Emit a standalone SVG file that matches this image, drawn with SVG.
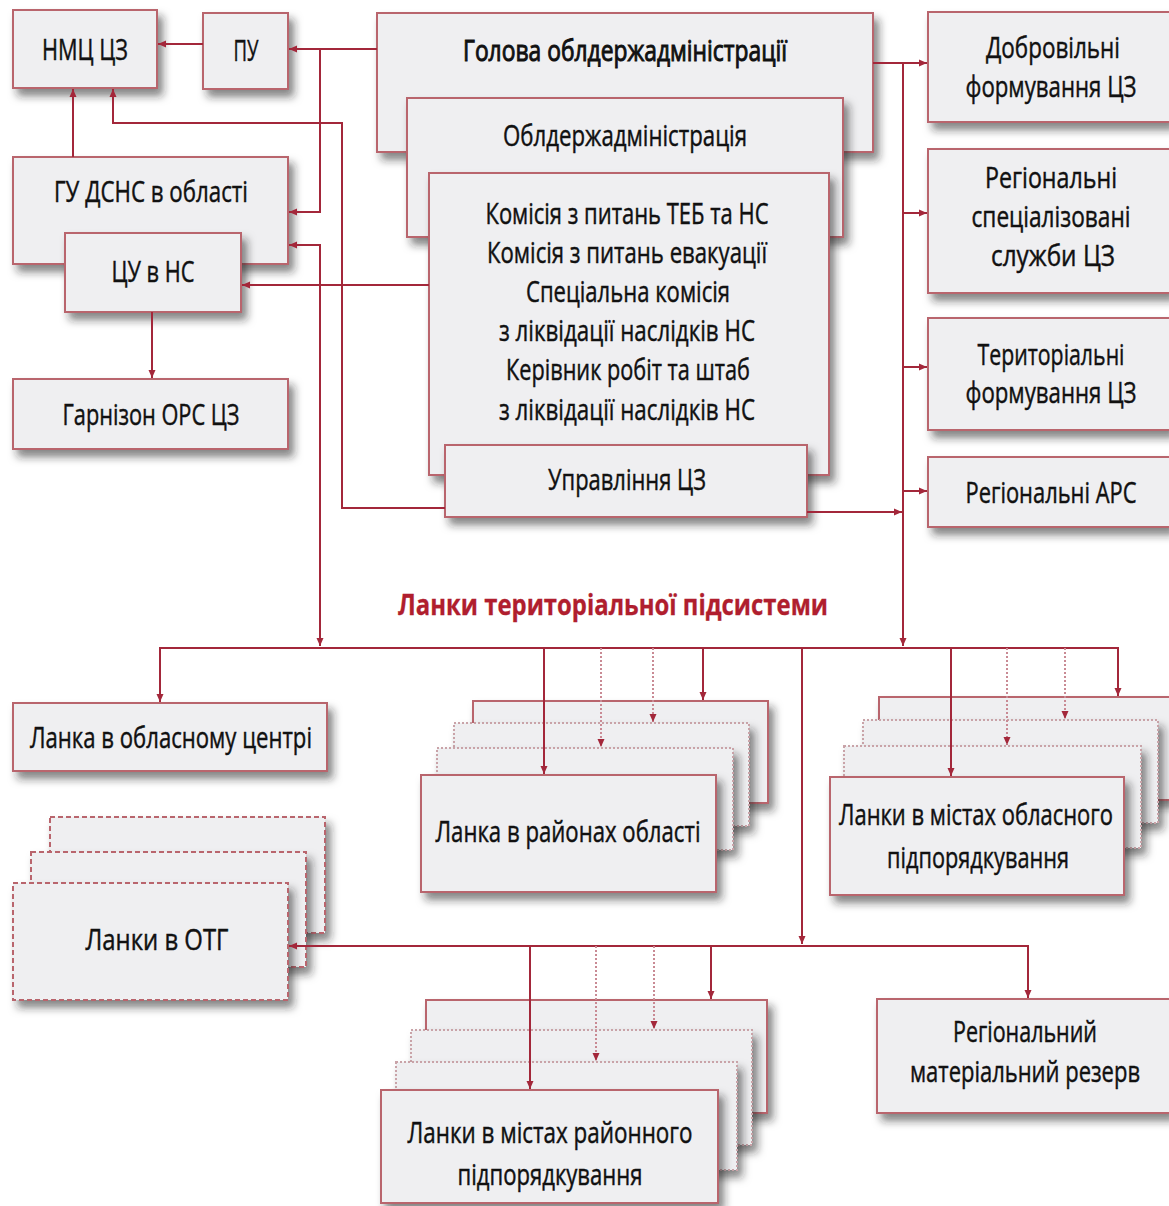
<svg xmlns="http://www.w3.org/2000/svg" width="1169" height="1206" viewBox="0 0 1169 1206">
<defs>
<filter id="sh" x="-10%" y="-15%" width="130%" height="150%">
<feDropShadow dx="5" dy="7" stdDeviation="4" flood-color="#222" flood-opacity="0.55"/>
</filter>
<marker id="ar" viewBox="0 0 8 8" refX="8" refY="4" markerWidth="8" markerHeight="8" markerUnits="userSpaceOnUse" orient="auto-start-reverse">
<path d="M0,0.5 L8,4 L0,7.5 z" fill="#a3273a"/>
</marker>
<marker id="ard" viewBox="0 0 8 8" refX="8" refY="4" markerWidth="8" markerHeight="8" markerUnits="userSpaceOnUse" orient="auto">
<path d="M0,0.5 L8,4 L0,7.5 z" fill="#a3273a"/>
</marker>
</defs>
<style>
.box{fill:#efeff1;stroke:#b9656d;stroke-width:2;filter:url(#sh)}
.boxd{fill:#efeff1;stroke:#c9a3a8;stroke-width:2;stroke-dasharray:2 2;filter:url(#sh)}
.boxdash{fill:#efeff1;stroke:#b9656d;stroke-width:2;stroke-dasharray:5 3;filter:url(#sh)}
text{font-family:"Open Sans","Noto Sans","Liberation Sans",sans-serif;font-size:29px;fill:#111;stroke:#111;stroke-width:0.45;text-anchor:middle}
.strong{stroke-width:1}
.title{fill:#b01e2e;stroke:#b01e2e;stroke-width:0.3;font-weight:bold}
.c{fill:none;stroke:#a3273a;stroke-width:2}
.cd{fill:none;stroke:#c98a94;stroke-width:2;stroke-dasharray:2 2}
</style>
<rect width="1169" height="1206" fill="#ffffff"/>

<g id="nmc"><rect class="box" x="13" y="10" width="144" height="78"/><text x="85" y="60" textLength="86" lengthAdjust="spacingAndGlyphs">НМЦ ЦЗ</text></g>
<g id="pu"><rect class="box" x="203" y="13" width="85" height="76"/><text x="246" y="61" textLength="25" lengthAdjust="spacingAndGlyphs">ПУ</text></g>
<g id="gu"><rect class="box" x="13" y="157" width="275" height="107"/><text x="151" y="202" textLength="194" lengthAdjust="spacingAndGlyphs">ГУ ДСНС в області</text></g>
<g id="cu"><rect class="box" x="65" y="233" width="176" height="79"/><text x="153" y="282" textLength="83" lengthAdjust="spacingAndGlyphs">ЦУ в НС</text></g>
<g id="garnizon"><rect class="box" x="13" y="379" width="275" height="70"/><text x="151" y="425" textLength="177" lengthAdjust="spacingAndGlyphs">Гарнізон ОРС ЦЗ</text></g>

<g id="holova"><rect class="box" x="377" y="13" width="496" height="139"/><text class="strong" x="625" y="61" textLength="324" lengthAdjust="spacingAndGlyphs">Голова облдержадміністрації</text></g>
<g id="oda"><rect class="box" x="407" y="98" width="436" height="139"/><text x="625" y="146" textLength="244" lengthAdjust="spacingAndGlyphs">Облдержадміністрація</text></g>
<g id="komisii"><rect class="box" x="429" y="173" width="400" height="302"/>
<text x="627" y="224" textLength="283" lengthAdjust="spacingAndGlyphs">Комісія з питань ТЕБ та НС</text>
<text x="627" y="263" textLength="280" lengthAdjust="spacingAndGlyphs">Комісія з питань евакуації</text>
<text x="628" y="302" textLength="204" lengthAdjust="spacingAndGlyphs">Спеціальна комісія</text>
<text x="627" y="341" textLength="256" lengthAdjust="spacingAndGlyphs">з ліквідації наслідків НС</text>
<text x="628" y="380" textLength="244" lengthAdjust="spacingAndGlyphs">Керівник робіт та штаб</text>
<text x="627" y="420" textLength="256" lengthAdjust="spacingAndGlyphs">з ліквідації наслідків НС</text>
</g>
<g id="upravlinnia"><rect class="box" x="445" y="445" width="362" height="72"/><text x="627" y="490" textLength="158" lengthAdjust="spacingAndGlyphs">Управління ЦЗ</text></g>

<g id="dobrovilni"><rect class="box" x="928" y="12" width="242" height="110"/>
<text x="1053" y="58" textLength="134" lengthAdjust="spacingAndGlyphs">Добровільні</text>
<text x="1051" y="97" textLength="171" lengthAdjust="spacingAndGlyphs">формування ЦЗ</text></g>
<g id="spec"><rect class="box" x="928" y="149" width="242" height="144"/>
<text x="1051" y="188" textLength="132" lengthAdjust="spacingAndGlyphs">Регіональні</text>
<text x="1051" y="227" textLength="159" lengthAdjust="spacingAndGlyphs">спеціалізовані</text>
<text x="1053" y="266" textLength="124" lengthAdjust="spacingAndGlyphs">служби ЦЗ</text></g>
<g id="terytorialni"><rect class="box" x="928" y="318" width="242" height="112"/>
<text x="1051" y="365" textLength="147" lengthAdjust="spacingAndGlyphs">Територіальні</text>
<text x="1051" y="403" textLength="171" lengthAdjust="spacingAndGlyphs">формування ЦЗ</text></g>
<g id="ars"><rect class="box" x="928" y="457" width="242" height="70"/>
<text x="1051" y="503" textLength="171" lengthAdjust="spacingAndGlyphs">Регіональні АРС</text></g>

<text class="title" x="613" y="615" textLength="430" lengthAdjust="spacingAndGlyphs">Ланки територіальної підсистеми</text>

<g id="lanka-obl-centr"><rect class="box" x="13" y="703" width="314" height="68"/><text x="171" y="748" textLength="282" lengthAdjust="spacingAndGlyphs">Ланка в обласному центрі</text></g>

<g id="lanka-raiony">
<rect class="box" x="473" y="701" width="295" height="102"/>
<rect class="boxd" x="454" y="723" width="295" height="103"/>
<rect class="boxd" x="437" y="748" width="296" height="102"/>
<rect class="box" x="421" y="775" width="295" height="117"/>
<text x="568" y="842" textLength="265" lengthAdjust="spacingAndGlyphs">Ланка в районах області</text>
</g>

<g id="lanky-mista-obl">
<rect class="box" x="879" y="697" width="291" height="103"/>
<rect class="boxd" x="863" y="720" width="295" height="103"/>
<rect class="boxd" x="844" y="746" width="297" height="102"/>
<rect class="box" x="830" y="777" width="294" height="118"/>
<text x="976" y="825" textLength="274" lengthAdjust="spacingAndGlyphs">Ланки в містах обласного</text>
<text x="978" y="868" textLength="182" lengthAdjust="spacingAndGlyphs">підпорядкування</text>
</g>

<g id="lanky-otg">
<rect class="boxdash" x="50" y="817" width="275" height="116"/>
<rect class="boxdash" x="31" y="852" width="275" height="115"/>
<rect class="boxdash" x="13" y="883" width="275" height="117"/>
<text x="157" y="950" textLength="143" lengthAdjust="spacingAndGlyphs">Ланки в ОТГ</text>
</g>

<g id="lanky-mista-rai">
<rect class="box" x="426" y="1000" width="341" height="113"/>
<rect class="boxd" x="411" y="1030" width="341" height="115"/>
<rect class="boxd" x="396" y="1062" width="341" height="108"/>
<rect class="box" x="381" y="1090" width="337" height="113"/>
<text x="550" y="1143" textLength="285" lengthAdjust="spacingAndGlyphs">Ланки в містах районного</text>
<text x="550" y="1185" textLength="185" lengthAdjust="spacingAndGlyphs">підпорядкування</text>
</g>

<g id="rezerv"><rect class="box" x="877" y="999" width="293" height="114"/>
<text x="1025" y="1042" textLength="144" lengthAdjust="spacingAndGlyphs">Регіональний</text>
<text x="1025" y="1082" textLength="230" lengthAdjust="spacingAndGlyphs">матеріальний резерв</text></g>

<g id="connectors">
<path class="c" d="M203,44 H158" marker-end="url(#ar)"/>
<path class="c" d="M377,49 H289" marker-end="url(#ar)"/>
<path class="c" d="M320,49 V212 H289" marker-end="url(#ar)"/>
<path class="c" d="M445,508 H342 V123 H113 V89" marker-end="url(#ar)"/>
<path class="c" d="M73,157 V89" marker-end="url(#ar)"/>
<path class="c" d="M289,245 H320 V646" marker-start="url(#ar)" marker-end="url(#ar)"/>
<path class="c" d="M429,285 H242" marker-end="url(#ar)"/>
<path class="c" d="M152,312 V378" marker-end="url(#ar)"/>
<path class="c" d="M873,63 H927" marker-end="url(#ar)"/>
<path class="c" d="M903,63 V646" marker-end="url(#ar)"/>
<path class="c" d="M903,213 H927" marker-end="url(#ar)"/>
<path class="c" d="M903,367 H927" marker-end="url(#ar)"/>
<path class="c" d="M903,491 H927" marker-end="url(#ar)"/>
<path class="c" d="M807,512 H902" marker-end="url(#ar)"/>
<path class="c" d="M160,702 V648 H1118 V696" marker-start="url(#ar)" marker-end="url(#ar)"/>
<path class="c" d="M544,648 V774" marker-end="url(#ar)"/>
<path class="cd" d="M601,648 V747" marker-end="url(#ard)"/>
<path class="cd" d="M653,648 V722" marker-end="url(#ard)"/>
<path class="c" d="M703,648 V700" marker-end="url(#ar)"/>
<path class="c" d="M951,648 V776" marker-end="url(#ar)"/>
<path class="cd" d="M1007,648 V745" marker-end="url(#ard)"/>
<path class="cd" d="M1065,648 V719" marker-end="url(#ard)"/>
<path class="c" d="M802,648 V944" marker-end="url(#ar)"/>
<path class="c" d="M289,946 H1028 V998" marker-start="url(#ar)" marker-end="url(#ar)"/>
<path class="c" d="M530,946 V1089" marker-end="url(#ar)"/>
<path class="cd" d="M596,946 V1061" marker-end="url(#ard)"/>
<path class="cd" d="M654,946 V1029" marker-end="url(#ard)"/>
<path class="c" d="M711,946 V999" marker-end="url(#ar)"/>
</g>
</svg>
